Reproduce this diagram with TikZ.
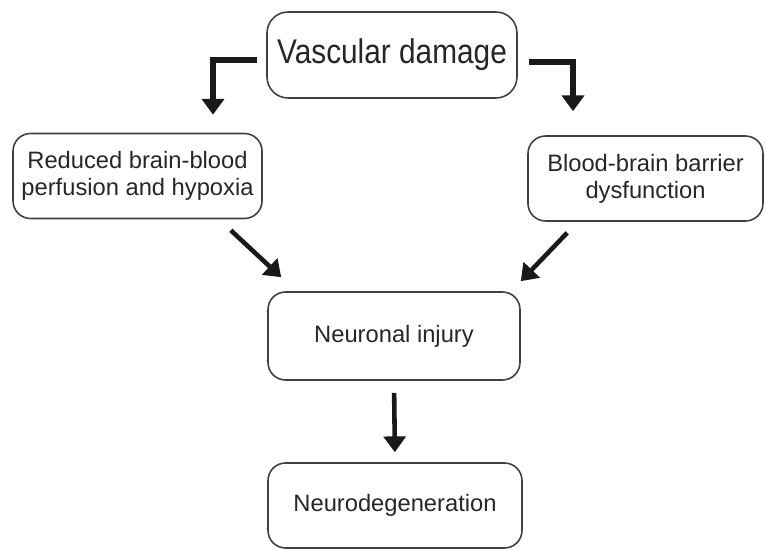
\documentclass[tikz,border=0pt]{standalone}
\usepackage{fontspec}
\setmainfont{Liberation Sans}
\newfontfamily\titlefont[FakeStretch=0.87]{Liberation Sans}
\usetikzlibrary{arrows.meta,positioning,calc}

\begin{document}
\begin{tikzpicture}[
      stage/.style={rectangle,draw=black!75,line width=0.9pt,rounded corners=10pt,
                    minimum width=50mm,minimum height=17mm,align=center,text=black!85,
                    font=\fontsize{13.5}{15.5}\selectfont},
      topstage/.style={stage,rounded corners=12pt,font=\titlefont\fontsize{19.5}{22}\selectfont},
      arrow/.style={-{Triangle[length=9pt,width=12.5pt]},line width=2.6pt,black!90},
      elbow/.style={arrow,line width=3pt},
      >=Latex
    ]
    \useasboundingbox (0,0) rectangle (15.32,-11);

    % Top: cause
    \node[topstage,minimum width=50mm,minimum height=17.2mm] (vasc) at (7.84,-1.10) {Vascular damage};

    % Two branches
    \node[stage,minimum width=49.8mm] (red) at (2.75,-3.52)
      {Reduced brain-blood\\perfusion and hypoxia};
    \node[stage,minimum width=47mm] (bbb) at (12.91,-3.57)
      {Blood-brain barrier\\dysfunction};

    % Consequences
    \node[stage,minimum width=50.4mm,minimum height=17.6mm] (inj) at (7.88,-6.72) {Neuronal injury};
    \node[stage,minimum width=50.8mm] (deg) at (7.9,-10.11) {Neurodegeneration};

    % Elbow arrows from the top box
    \draw[elbow] ([shift={(-0.18,-0.1)}]vasc.west) -| ([shift={(1.51,0.36)}]red.north);
    \draw[elbow] ([shift={(0.22,-0.14)}]vasc.east) -| ([shift={(-1.45,0.48)}]bbb.north);

    % Diagonal arrows
    \draw[arrow] ([shift={(-0.64,-0.22)}]red.south east) -- ([shift={(0.28,0.28)}]inj.north west);
    \draw[arrow] ([shift={(0.8,-0.22)}]bbb.south west) -- ([shift={(0,0.2)}]inj.north east);

    % Down
    \draw[arrow,shorten <=0.24cm,shorten >=0.2cm] (inj.south) -- (deg.north);

  \end{tikzpicture}
\end{document}
